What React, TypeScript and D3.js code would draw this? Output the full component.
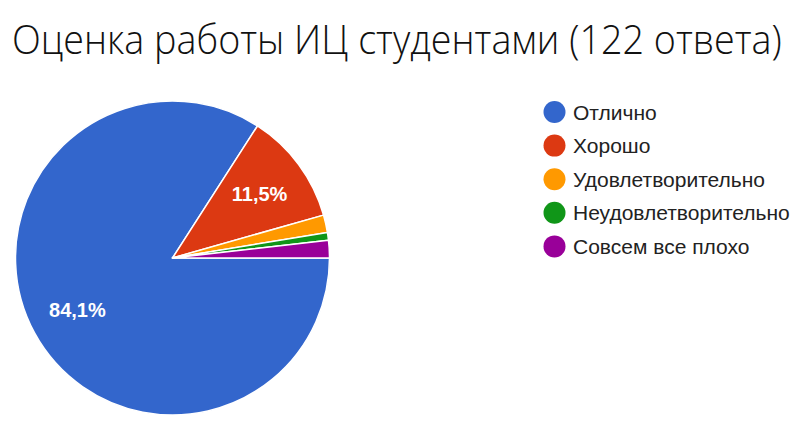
import React, { useEffect, useRef } from 'react';
import * as d3 from 'd3';

const categories = ['Отлично', 'Хорошо', 'Удовлетворительно', 'Неудовлетворительно', 'Совсем все плохо'];
const shares = [84.1, 11.5, 1.8, 0.8, 1.8];
const colors = ['#3366cc', '#dc3912', '#ff9900', '#109618', '#990099'];
const title = 'Оценка работы ИЦ студентами (122 ответа)';

export default function App() {
  const ref = useRef<SVGSVGElement | null>(null);

  useEffect(() => {
    if (!ref.current) return;
    const svg = d3.select(ref.current);
    svg.selectAll('*').remove();

    const width = 800;
    const height = 427;
    const cx = 172.5;
    const cy = 258;
    const radius = 157;

    svg.append('rect').attr('width', width).attr('height', height).attr('fill', '#fff');

    // title: narrow it to the reference width with a real scale, not textLength
    const titleText = svg.append('text')
      .attr('x', 0)
      .attr('y', 0)
      .attr('font-family', '"Open Sans", sans-serif')
      .attr('font-weight', 300)
      .attr('font-size', 40)
      .attr('fill', '#111')
      .text(title);
    const natural = (titleText.node() as SVGTextElement).getComputedTextLength() || 800;
    const sx = 770 / natural;
    titleText.attr('transform', `translate(12,54) scale(${sx},1)`);

    const data = categories.map((c, i) => ({ name: c, value: shares[i], color: colors[i] }));
    const pie = d3.pie<typeof data[number]>()
      .value(d => d.value)
      .sort(null)
      .startAngle(Math.PI / 2)
      .endAngle(Math.PI / 2 + 2 * Math.PI);

    const arc = d3.arc<d3.PieArcDatum<typeof data[number]>>().innerRadius(0).outerRadius(radius);
    const labelArc = d3.arc<d3.PieArcDatum<typeof data[number]>>()
      .innerRadius(radius * 0.69)
      .outerRadius(radius * 0.69);

    const g = svg.append('g').attr('transform', `translate(${cx},${cy})`);
    const arcs = pie(data);

    g.selectAll('path')
      .data(arcs)
      .join('path')
      .attr('d', arc)
      .attr('fill', d => d.data.color)
      .attr('stroke', '#fff')
      .attr('stroke-width', 1.5)
      .attr('stroke-linejoin', 'round');

    // only slices big enough get a percentage label
    g.selectAll('text.lbl')
      .data(arcs.filter(d => d.data.value > 5))
      .join('text')
      .attr('class', 'lbl')
      .attr('transform', d => `translate(${labelArc.centroid(d)})`)
      .attr('text-anchor', 'middle')
      .attr('dy', '0.36em')
      .attr('font-family', '"Liberation Sans", Arial, sans-serif')
      .attr('font-weight', 'bold')
      .attr('font-size', 20)
      .attr('fill', '#fff')
      .text(d => `${d.data.value.toFixed(1).replace('.', ',')}%`);

    const legend = svg.append('g').attr('transform', 'translate(554.5,112)');
    const row = legend.selectAll('g')
      .data(data)
      .join('g')
      .attr('transform', (_, i) => `translate(0,${i * 33.6})`);

    row.append('circle')
      .attr('r', 11)
      .attr('fill', d => d.color);

    row.append('text')
      .attr('x', 18.5)
      .attr('dy', '0.36em')
      .attr('font-family', '"Liberation Sans", Arial, sans-serif')
      .attr('font-size', 21)
      .attr('fill', '#222')
      .text(d => d.name);
  }, []);

  return (
    <svg
      ref={ref}
      width={800}
      height={427}
      style={{ position: 'absolute', left: 0, top: 0, display: 'block' }}
    />
  );
}
